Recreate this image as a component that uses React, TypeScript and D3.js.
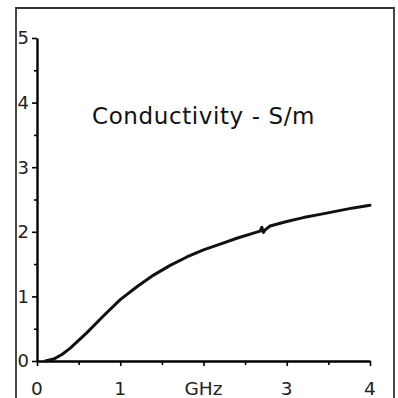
import { useEffect, useRef } from 'react';
import * as d3 from 'd3';

// frequency in GHz, conductivity in S/m
const freq = [0.1, 0.2, 0.3, 0.4, 0.6, 0.8, 1.0, 1.2, 1.4, 1.6, 1.8, 2.0, 2.2, 2.4, 2.6, 2.68, 2.7, 2.72, 2.74, 2.8, 3.0, 3.2, 3.4, 3.6, 3.8, 4.0];
const sigma = [0.0, 0.03, 0.1, 0.2, 0.44, 0.7, 0.95, 1.15, 1.33, 1.48, 1.61, 1.72, 1.81, 1.9, 1.98, 2.01, 2.07, 1.99, 2.03, 2.09, 2.16, 2.22, 2.27, 2.32, 2.37, 2.41];
const xTickLabels = ['0', '1', 'GHz', '3', '4'];
const yTicks = [0, 1, 2, 3, 4, 5];
const title = 'Conductivity - S/m';

const App = () => {
    const ref = useRef<SVGSVGElement>(null);

    useEffect(() => {
        if (!ref.current) return;
        const width = 398;
        const height = 398;
        const svg = d3.select(ref.current);
        svg.selectAll('*').remove();
        svg.attr('width', width).attr('height', height);

        svg.append('rect').attr('width', width).attr('height', height).attr('fill', '#fff');

        // frame
        svg.append('path')
            .attr('d', 'M16,402 V8 H394 V402')
            .attr('fill', 'none')
            .attr('stroke', '#333')
            .attr('stroke-width', 1.8);

        const x = d3.scaleLinear().domain([0, 4]).range([37, 370]);
        const y = d3.scaleLinear().domain([0, 5]).range([361, 38]);

        const font = 'DejaVu Sans, Verdana, sans-serif';

        // y axis
        const yAxis = svg.append('g')
            .attr('transform', `translate(${x(0)},0)`)
            .call(d3.axisLeft(y).tickValues(d3.range(0, 5.01, 0.5)).tickSize(5).tickFormat(() => '').tickSizeOuter(0));
        yAxis.select('.domain').attr('stroke-width', 2.4);
        yAxis.selectAll('.tick line').attr('stroke-width', 1.6)
            .attr('x2', (d: any) => (Number.isInteger(d) ? -5 : -3));

        svg.append('g').selectAll('text').data(yTicks).join('text')
            .attr('x', 29).attr('y', d => y(d))
            .attr('dy', '0.36em')
            .attr('text-anchor', 'end')
            .attr('font-family', font).attr('font-size', 18)
            .attr('fill', '#222')
            .text(d => d);

        // x axis
        const xAxis = svg.append('g')
            .attr('transform', `translate(0,${y(0)})`)
            .call(d3.axisBottom(x).tickValues(d3.range(0, 4.01, 0.5)).tickSize(5).tickFormat(() => '').tickSizeOuter(0));
        xAxis.select('.domain').attr('stroke-width', 2.4);
        xAxis.selectAll('.tick line').attr('stroke-width', 1.6)
            .attr('y2', (d: any) => (Number.isInteger(d) ? 5 : 4));

        svg.append('g').selectAll('text').data(xTickLabels).join('text')
            .attr('x', (_, i) => x(i)).attr('y', 395)
            .attr('text-anchor', 'middle')
            .attr('font-family', font).attr('font-size', 18.5)
            .attr('fill', '#222')
            .text(d => d);

        // curve
        const line = d3.line<number>()
            .x((_, i) => x(freq[i]))
            .y(d => y(d))
            .curve(d3.curveLinear);
        svg.append('path')
            .datum(sigma)
            .attr('d', line)
            .attr('fill', 'none')
            .attr('stroke', '#111')
            .attr('stroke-width', 3)
            .attr('stroke-linejoin', 'round')
            .attr('stroke-linecap', 'round');

        svg.append('text')
            .attr('x', 92).attr('y', 124)
            .attr('font-family', font).attr('font-size', 23)
            .attr('letter-spacing', 0.6)
            .attr('fill', '#111')
            .text(title);
    }, []);

    return <svg ref={ref} style={{ position: 'absolute', left: 0, top: 0 }} />;
};

export default App;
